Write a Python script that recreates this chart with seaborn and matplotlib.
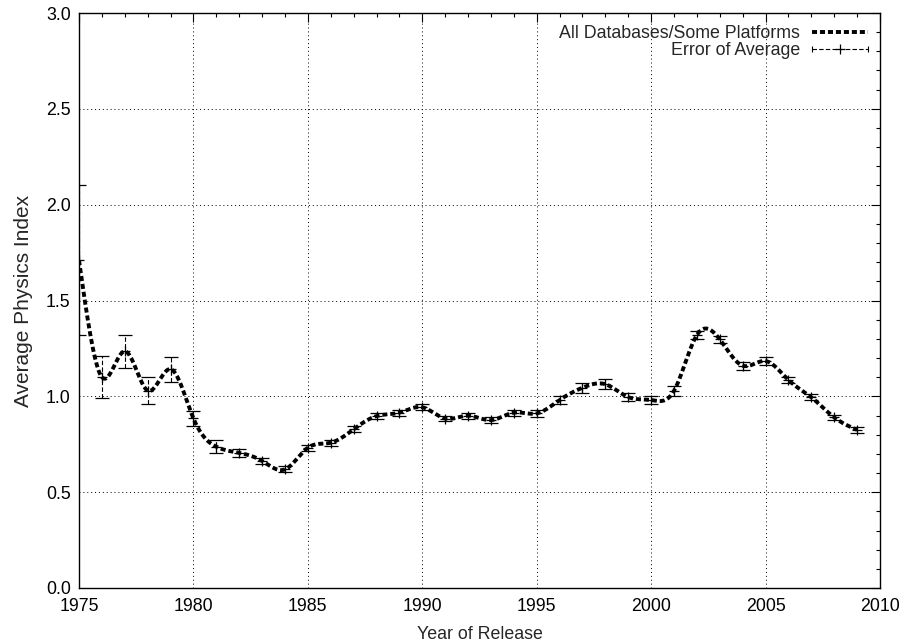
import numpy as np
import pandas as pd
import matplotlib
matplotlib.use("Agg")
import matplotlib.pyplot as plt
import seaborn as sns
from matplotlib.lines import Line2D
from matplotlib.legend_handler import HandlerBase
from matplotlib.container import ErrorbarContainer
from matplotlib.ticker import MultipleLocator, FormatStrFormatter

years = list(range(1975, 2010))
avg_index = [1.71, 1.10, 1.235, 1.03, 1.142, 0.885, 0.737, 0.705, 0.663, 0.619,
             0.732, 0.758, 0.828, 0.897, 0.915, 0.943, 0.884, 0.899, 0.876, 0.915,
             0.911, 0.981, 1.045, 1.063, 0.996, 0.981, 1.029, 1.320, 1.297, 1.160,
             1.184, 1.085, 0.995, 0.890, 0.825]
err_avg = [0.39, 0.11, 0.085, 0.07, 0.065, 0.04, 0.035, 0.02, 0.015, 0.015,
           0.015, 0.015, 0.015, 0.015, 0.015, 0.015, 0.015, 0.015, 0.015, 0.015,
           0.02, 0.02, 0.025, 0.025, 0.02, 0.02, 0.025, 0.02, 0.02, 0.02,
           0.02, 0.015, 0.015, 0.015, 0.015]
x_ticks = [1975, 1980, 1985, 1990, 1995, 2000, 2005, 2010]
y_ticks = [0.0, 0.5, 1.0, 1.5, 2.0, 2.5, 3.0]

df = pd.DataFrame({"year": years, "avg": avg_index, "err": err_avg})


def natural_cspline(x, y, xs):
    x = np.asarray(x, float); y = np.asarray(y, float)
    n = len(x); h = np.diff(x)
    A = np.zeros((n, n)); b = np.zeros(n)
    A[0, 0] = 1; A[-1, -1] = 1
    for i in range(1, n - 1):
        A[i, i - 1] = h[i - 1]; A[i, i] = 2 * (h[i - 1] + h[i]); A[i, i + 1] = h[i]
        b[i] = 3 * ((y[i + 1] - y[i]) / h[i] - (y[i] - y[i - 1]) / h[i - 1])
    c = np.linalg.solve(A, b)
    bb = (y[1:] - y[:-1]) / h - h * (2 * c[:-1] + c[1:]) / 3
    d = (c[1:] - c[:-1]) / (3 * h)
    idx = np.clip(np.searchsorted(x, xs) - 1, 0, n - 2)
    t = xs - x[idx]
    return y[idx] + bb[idx] * t + c[idx] * t ** 2 + d[idx] * t ** 3


xs = np.linspace(df["year"].min(), df["year"].max(), 800)
smooth = pd.DataFrame({"year": xs, "avg": natural_cspline(df["year"], df["avg"], xs)})

sns.set_style("white")
plt.rcParams["font.family"] = ["Liberation Sans", "DejaVu Sans"]
FS = 12.8
plt.rcParams["font.size"] = FS

fig = plt.figure(figsize=(9.13, 6.44), dpi=100)
ax = fig.add_axes([79 / 913, 56 / 644, (880 - 79) / 913, (588 - 13) / 644])

eb = ax.errorbar(df["year"], df["avg"], yerr=df["err"], fmt="+", color="black",
                 ms=7, mew=0.9, elinewidth=0.8, capsize=5, capthick=0.8,
                 label="Error of Average", zorder=3)
for lc in eb[2]:
    lc.set_linestyle((0, (4, 2)))

sns.lineplot(data=smooth, x="year", y="avg", ax=ax, color="black", lw=2.8,
             linestyle=(0, (1.3, 0.75)), label="All Databases/Some Platforms", zorder=4)
ax.lines[-1].set_dash_capstyle("butt")

ax.set_xlim(1975, 2010)
ax.set_ylim(0, 3.0)
ax.set_xticks(x_ticks)
ax.set_yticks(y_ticks)
ax.yaxis.set_major_formatter(FormatStrFormatter("%.1f"))
ax.xaxis.set_minor_locator(MultipleLocator(1))
ax.yaxis.set_minor_locator(MultipleLocator(0.1))
ax.tick_params(which="both", direction="in", top=True, right=True, colors="black",
               labelsize=FS)
ax.tick_params(which="major", length=6.5, width=0.8)
ax.tick_params(which="minor", length=3.2, width=0.8)
ax.tick_params(axis="x", which="major", pad=7)
ax.tick_params(axis="y", which="major", pad=6)
ax.grid(True, which="major", linestyle=(0, (1, 3)), color="black", lw=0.7)
for s in ax.spines.values():
    s.set_color("black"); s.set_linewidth(1.0); s.set_visible(True)

ax.set_xlabel("Year of Release", fontsize=FS, labelpad=8)
ax.set_ylabel("Average Physics Index", fontsize=15, labelpad=9)


class HandlerErr(HandlerBase):
    def create_artists(self, legend, orig_handle, xdescent, ydescent, width, height,
                       fontsize, trans):
        y = height / 2 - ydescent
        x0, x1 = -xdescent, width - xdescent
        line = Line2D([x0, x1], [y, y], color="black", lw=0.8, ls=(0, (4, 2)))
        caps = Line2D([x0, x1], [y, y], color="black", ls="none", marker="|",
                      ms=5, mew=0.8)
        ctr = Line2D([(x0 + x1) / 2], [y], color="black", ls="none", marker="+",
                     ms=7, mew=0.9)
        for a in (line, caps, ctr):
            a.set_transform(trans)
        return [line, caps, ctr]


h, l = ax.get_legend_handles_labels()
order = [l.index("All Databases/Some Platforms"), l.index("Error of Average")]
leg = ax.legend([h[i] for i in order], [l[i] for i in order], loc="upper right",
                frameon=False, markerfirst=False, handlelength=3.1, fontsize=FS,
                borderaxespad=0.4, borderpad=0.3, labelspacing=0.0,
                handletextpad=0.7, handler_map={ErrorbarContainer: HandlerErr()})

fig.savefig("out.png", dpi=100)
